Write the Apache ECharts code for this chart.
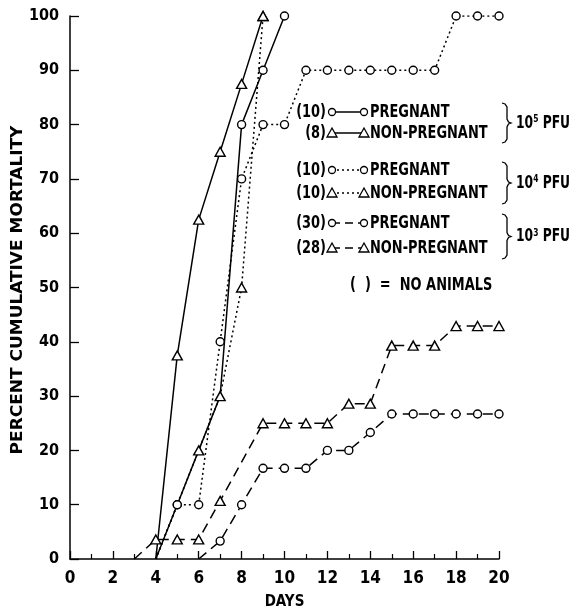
<!DOCTYPE html>
<html>
<head>
<meta charset="utf-8">
<script src="https://cdn.jsdelivr.net/npm/echarts@6/dist/echarts.min.js"></script>
<style>
  html, body { margin: 0; padding: 0; background: #fff; }
  #chart { width: 577px; height: 609px; }
</style>
</head>
<body>
<div id="chart"></div>
<script>
// days and percent cumulative mortality per group
const solidCircleDays = [4, 5, 6, 7, 8, 9, 10]
const solidCircleVals = [0, 10, 20, 30, 80, 90, 100]
const solidTriDays = [4, 5, 6, 7, 8, 9]
const solidTriVals = [0, 37.5, 62.5, 75, 87.5, 100]
const dotCircleDays = [4, 5, 6, 7, 8, 9, 10, 11, 12, 13, 14, 15, 16, 17, 18, 19, 20]
const dotCircleVals = [0, 10, 10, 40, 70, 80, 80, 90, 90, 90, 90, 90, 90, 90, 100, 100, 100]
const dotTriDays = [4, 5, 6, 7, 8, 9]
const dotTriVals = [0, 10, 20, 30, 50, 100]
const dashCircleDays = [6, 7, 8, 9, 10, 11, 12, 13, 14, 15, 16, 17, 18, 19, 20]
const dashCircleVals = [0, 3.3, 10, 16.7, 16.7, 16.7, 20, 20, 23.3, 26.7, 26.7, 26.7, 26.7, 26.7, 26.7]
const dashTriDays = [3, 4, 5, 6, 7, 9, 10, 11, 12, 13, 14, 15, 16, 17, 18, 19, 20]
const dashTriVals = [0, 3.6, 3.6, 3.6, 10.7, 25, 25, 25, 25, 28.6, 28.6, 39.3, 39.3, 39.3, 42.9, 42.9, 42.9]

// days where a point is drawn without its marker (hidden behind another one)
const noMarkSolidCircle = [4, 6, 7]
const noMarkSolidTri = [4]
const noMarkDotCircle = [4]
const noMarkDotTri = [4, 5]
const noMarkDashCircle = [6]
const noMarkDashTri = [3]

const legendCounts = ['(10)', '(8)', '(10)', '(10)', '(30)', '(28)']
const legendNames = ['PREGNANT', 'NON-PREGNANT', 'PREGNANT', 'NON-PREGNANT', 'PREGNANT', 'NON-PREGNANT']
const doseExps = ['5', '4', '3']
const yTitle = 'PERCENT CUMULATIVE MORTALITY'

const FONT = '"DejaVu Sans Condensed", sans-serif'
const TRI = 'path://M5,0 L10,9 L0,9 Z'
const SQX = 0.8 // squeeze legend text horizontally

function pairs(days, vals, hidden) {
  return days.map((d, i) => {
    const item = { value: [d, vals[i]] }
    if (hidden.indexOf(d) >= 0) item.symbol = 'none'
    return item
  })
}

function makeSeries(days, vals, hidden, symbol, dash) {
  return {
    type: 'line',
    data: pairs(days, vals, hidden),
    symbol: symbol,
    symbolSize: symbol === 'circle' ? 8 : [10, 9],
    showAllSymbol: true,
    lineStyle: { color: '#000', width: 1.5, type: dash },
    itemStyle: { color: '#fff', borderColor: '#000', borderWidth: 1.4 },
    animation: false
  }
}

// legend drawn with graphic elements
const rowY = [112, 133, 170, 193, 223, 248]
const rowDash = ['solid', 'solid', [2, 3], [2, 3], [8, 5], [8, 5]]
const legendGraphic = []
rowY.forEach((y, i) => {
  const tri = i % 2 === 1
  legendGraphic.push({
    type: 'text', x: 326, y: y, scaleX: SQX,
    style: { text: legendCounts[i], font: 'bold 18px ' + FONT, fill: '#000', align: 'right', verticalAlign: 'middle' }
  })
  legendGraphic.push({
    type: 'line', shape: { x1: 332, y1: y, x2: 364, y2: y },
    style: { stroke: '#000', lineWidth: 1.5, lineDash: rowDash[i] === 'solid' ? null : rowDash[i] }
  })
  ;[332, 364].forEach(cx => {
    if (tri) {
      legendGraphic.push({
        type: 'polygon', shape: { points: [[cx, y - 5], [cx + 5, y + 4], [cx - 5, y + 4]] },
        style: { fill: '#fff', stroke: '#000', lineWidth: 1.3 }
      })
    } else {
      legendGraphic.push({
        type: 'circle', shape: { cx: cx, cy: y, r: 3.5 },
        style: { fill: '#fff', stroke: '#000', lineWidth: 1.3 }
      })
    }
  })
  legendGraphic.push({
    type: 'text', x: 370, y: y, scaleX: SQX,
    style: { text: legendNames[i], font: 'bold 18px ' + FONT, fill: '#000', align: 'left', verticalAlign: 'middle' }
  })
})
const braces = [[103, 143], [162, 204], [214, 259]]
braces.forEach((b, i) => {
  const t = b[0], e = b[1], m = (t + e) / 2
  legendGraphic.push({
    type: 'polyline',
    shape: {
      points: [[502, t], [505, t + 1], [507, t + 4], [507, m - 4], [508.5, m - 1], [511, m],
        [508.5, m + 1], [507, m + 4], [507, e - 4], [505, e - 1], [502, e]]
    },
    style: { fill: null, stroke: '#000', lineWidth: 1.3 }
  })
  legendGraphic.push({
    type: 'text', x: 516, y: m, scaleX: 0.76,
    style: {
      text: '{a|10}{s|' + doseExps[i] + '}{a| PFU}',
      verticalAlign: 'middle',
      rich: {
        a: { fontFamily: FONT, fontWeight: 'bold', fontSize: 18, fill: '#000' },
        s: { fontFamily: FONT, fontWeight: 'bold', fontSize: 11, fill: '#000', verticalAlign: 'top' }
      }
    }
  })
})
legendGraphic.push({
  type: 'text', x: 350, y: 285, scaleX: SQX,
  style: { text: '(  )  =  NO ANIMALS', font: 'bold 18px ' + FONT, fill: '#000', align: 'left', verticalAlign: 'middle' }
})
// vertical y axis title
legendGraphic.push({
  type: 'text', x: 18, y: 290, rotation: Math.PI / 2, scaleX: 1.18,
  style: { text: yTitle, font: 'bold 16px ' + FONT, fill: '#000', align: 'center', verticalAlign: 'middle' }
})

const chart = echarts.init(document.getElementById('chart'))
chart.setOption({
  backgroundColor: '#fff',
  animation: false,
  grid: { left: 70, right: 78, top: 16, bottom: 50, containLabel: false, outerBoundsMode: 'none' },
  xAxis: {
    type: 'value',
    min: 0,
    max: 20,
    interval: 2,
    name: 'DAYS',
    nameLocation: 'middle',
    nameGap: 36,
    nameTextStyle: { color: '#000', fontFamily: FONT, fontWeight: 'bold', fontSize: 15 },
    axisLine: { show: true, lineStyle: { color: '#000', width: 1.5 } },
    axisTick: { show: true, inside: true, length: 8, lineStyle: { color: '#000', width: 1.3 } },
    minorTick: { show: true, splitNumber: 2, length: 5, lineStyle: { color: '#000', width: 1.2 } },
    axisLabel: { color: '#000', fontFamily: FONT, fontWeight: 'bold', fontSize: 17, margin: 11 },
    splitLine: { show: false }
  },
  yAxis: {
    type: 'value',
    min: 0,
    max: 100,
    interval: 10,
    axisLine: { show: true, lineStyle: { color: '#000', width: 1.5 } },
    axisTick: { show: true, inside: true, length: 9, lineStyle: { color: '#000', width: 1.3 } },
    axisLabel: { color: '#000', fontFamily: FONT, fontWeight: 'bold', fontSize: 16, margin: 11 },
    splitLine: { show: false }
  },
  series: [
    makeSeries(dashCircleDays, dashCircleVals, noMarkDashCircle, 'circle', [10, 6]),
    makeSeries(dashTriDays, dashTriVals, noMarkDashTri, TRI, [10, 6]),
    makeSeries(dotCircleDays, dotCircleVals, noMarkDotCircle, 'circle', [2, 3]),
    makeSeries(dotTriDays, dotTriVals, noMarkDotTri, TRI, [2, 3]),
    makeSeries(solidCircleDays, solidCircleVals, noMarkSolidCircle, 'circle', 'solid'),
    makeSeries(solidTriDays, solidTriVals, noMarkSolidTri, TRI, 'solid')
  ],
  graphic: legendGraphic
})
</script>
</body>
</html>
